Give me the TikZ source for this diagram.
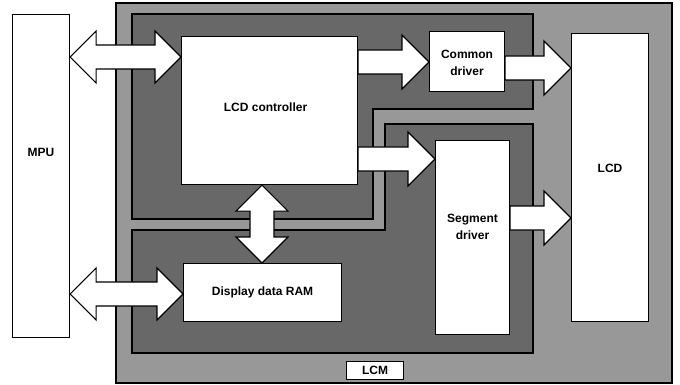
\documentclass[tikz,border=0pt]{standalone}
\usepackage{fontspec}
\setmainfont{Liberation Sans}
\usetikzlibrary{calc}
\definecolor{lcmgray}{RGB}{152,152,152}
\definecolor{darkgray2}{RGB}{104,104,104}
\tikzset{
  box/.style={draw=black, line width=1.1pt, fill=white, anchor=north west, inner sep=0pt},
  txt/.style={font=\fontsize{12}{17}\selectfont\bfseries, align=center, inner sep=0pt},
  blk/.style={draw=black, line width=1.1pt, fill=white, line join=miter},
  region/.style={draw=black, line width=1.1pt, fill=darkgray2},
}
\newcommand\hdblarrow[2]{\draw[blk] let \p1=(#1), \p2=(#2) in (\x1,\y1) -- (\x1+26pt,\y1+26pt) -- (\x1+26pt,\y1+12pt) -- (\x2-26pt,\y1+12pt) -- (\x2-26pt,\y1+26pt) -- (\x2,\y1) -- (\x2-26pt,\y1-26pt) -- (\x2-26pt,\y1-12pt) -- (\x1+26pt,\y1-12pt) -- (\x1+26pt,\y1-26pt) -- cycle;}
\newcommand\vdblarrow[2]{\draw[blk] let \p1=(#1), \p2=(#2) in (\x1,\y1) -- (\x1+26pt,\y1-26pt) -- (\x1+12pt,\y1-26pt) -- (\x1+12pt,\y2+26pt) -- (\x1+26pt,\y2+26pt) -- (\x1,\y2) -- (\x1-26pt,\y2+26pt) -- (\x1-12pt,\y2+26pt) -- (\x1-12pt,\y1-26pt) -- (\x1-26pt,\y1-26pt) -- cycle;}
\newcommand\hsglarrow[2]{\draw[blk] let \p1=(#1), \p2=(#2) in (\x1,\y1+12pt) -- (\x2-27pt,\y1+12pt) -- (\x2-27pt,\y1+27pt) -- (\x2,\y1) -- (\x2-27pt,\y1-27pt) -- (\x2-27pt,\y1-12pt) -- (\x1,\y1-12pt) -- cycle;}
\begin{document}
\begin{tikzpicture}[x=1pt,y=-1pt]
\useasboundingbox (0,0) rectangle (680,385);
% LCM outer
\draw[draw=black, line width=1.1pt, fill=lcmgray] (116,3) rectangle (672,383);
% dark regions
\draw[region] (132,14) -- (533,14) -- (533,109) -- (373,109) -- (373,219) -- (132,219) -- cycle;
\draw[region] (132,230) -- (385,230) -- (385,124) -- (533,124) -- (533,353) -- (132,353) -- cycle;
% boxes
\node[box, minimum width=57pt, minimum height=323pt] (mpu) at (12,14) {};
\node[box, minimum width=176pt, minimum height=148pt] (lcdc) at (181,36) {};
\node[box, minimum width=75pt, minimum height=60pt] (com) at (429,31) {};
\node[box, minimum width=77pt, minimum height=288pt] (lcd) at (571,33) {};
\node[box, minimum width=74pt, minimum height=194pt] (seg) at (435,140) {};
\node[box, minimum width=158pt, minimum height=58pt] (ram) at (183,263) {};
\node[box, minimum width=57pt, minimum height=18pt] (lcm) at (346,361) {};
% texts
\node[txt] (tmpu) at ($(mpu.north)+(0,138)$) {MPU};
\node[txt] (tlcdc) at ($(lcdc.center)+(-4,-3)$) {LCD controller};
\node[txt] (tcom) at ($(com.center)+(0,1)$) {Common\\driver};
\node[txt] (tlcd) at ($(lcd.north)+(0,135)$) {LCD};
\node[txt] (tseg) at ($(seg.north)+(0,87)$) {Segment\\driver};
\node[txt] (tram) at (ram.center) {Display data RAM};
\node[txt] (tlcm) at (lcm.center) {LCM};
% helper coordinates
\coordinate (ya) at (0,57);
\coordinate (yb) at (0,294);
\coordinate (yc) at (0,62);
\coordinate (yd) at (0,159);
\coordinate (ye) at (0,68);
\coordinate (yf) at (0,218);
\coordinate (xv) at (262,0);
% arrows
\hdblarrow{mpu.east |- ya}{lcdc.west |- ya}
\hdblarrow{mpu.east |- yb}{ram.west |- yb}
\vdblarrow{xv |- lcdc.south}{xv |- ram.north}
\hsglarrow{lcdc.east |- yc}{com.west |- yc}
\hsglarrow{lcdc.east |- yd}{seg.west |- yd}
\hsglarrow{com.east |- ye}{lcd.west |- ye}
\hsglarrow{seg.east |- yf}{lcd.west |- yf}
\end{tikzpicture}
\end{document}
